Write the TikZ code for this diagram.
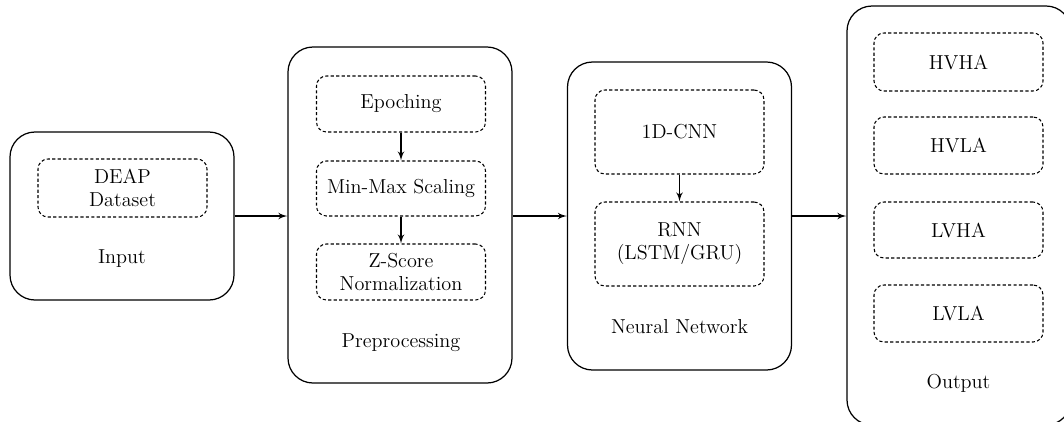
\documentclass[tikz,border=0pt]{standalone}
\usepackage{tikz}
\usetikzlibrary{shapes}
\usetikzlibrary{arrows}

\begin{document}
\begin{tikzpicture}
  \fontsize{11.5}{13}\selectfont
  \tikzset{stage/.style = {draw,line width=0.7pt,rounded corners=0.5cm,minimum width=4.48cm}}
  \tikzset{sub/.style = {draw,line width=0.6pt,dash pattern=on 1.8pt off 1.3pt,rounded corners=0.2cm,
      minimum width=3.38cm,align=center,inner sep=0pt}}
  \tikzset{flow/.style = {->,> = latex',line width=0.8pt}}
  \useasboundingbox (0,0) rectangle (21.28,-8.42);
  % stages
  \node[stage,minimum height=3.36cm] (input) at (2.44,-4.32) {};
  \node[stage,minimum height=6.72cm] (prep)  at (8.00,-4.30) {};
  \node[stage,minimum height=6.16cm] (nn)    at (13.59,-4.32) {};
  \node[stage,minimum height=8.38cm] (out)   at (19.18,-4.31) {};
  % stage labels
  \node[anchor=base] (inputlbl) at (2.44,-5.26) {Input};
  \node[anchor=base] (preplbl)  at (8.02,-6.94) {Preprocessing};
  \node[anchor=base] (nnlbl)    at (13.59,-6.66) {Neural Network};
  \node[anchor=base] (outlbl)   at (19.17,-7.76) {Output};
  % inner boxes
  \node[sub,minimum height=1.16cm] (deap)   at (2.45,-3.76)  {DEAP\\Dataset};
  \node[sub,minimum height=1.12cm] (epoch)  at (8.02,-2.08)  {Epoching};
  \node[sub,minimum height=1.10cm] (minmax) at (8.02,-3.77)  {Min-Max Scaling};
  \node[sub,minimum height=1.12cm] (zscore) at (8.02,-5.44)  {Z-Score\\Normalization};
  \node[sub,minimum height=1.68cm] (cnn)    at (13.59,-2.64) {1D-CNN};
  \node[sub,minimum height=1.68cm] (rnn)    at (13.59,-4.88) {RNN\\(LSTM/GRU)};
  \node[sub,minimum height=1.16cm] (hvha)   at (19.17,-1.24) {HVHA};
  \node[sub,minimum height=1.14cm] (hvla)   at (19.17,-2.91) {HVLA};
  \node[sub,minimum height=1.12cm] (lvha)   at (19.17,-4.60) {LVHA};
  \node[sub,minimum height=1.14cm] (lvla)   at (19.17,-6.27) {LVLA};
  % arrows
  \draw[flow] (input.east) -- (input.east -| prep.west);
  \draw[flow] (input.east -| prep.east) -- (input.east -| nn.west);
  \draw[flow] (nn.east) -- (nn.east -| out.west);
  \draw[flow] (epoch) -- (minmax);
  \draw[flow] (minmax) -- (zscore);
  \draw[flow] (cnn) -- (rnn);
\end{tikzpicture}
\end{document}
